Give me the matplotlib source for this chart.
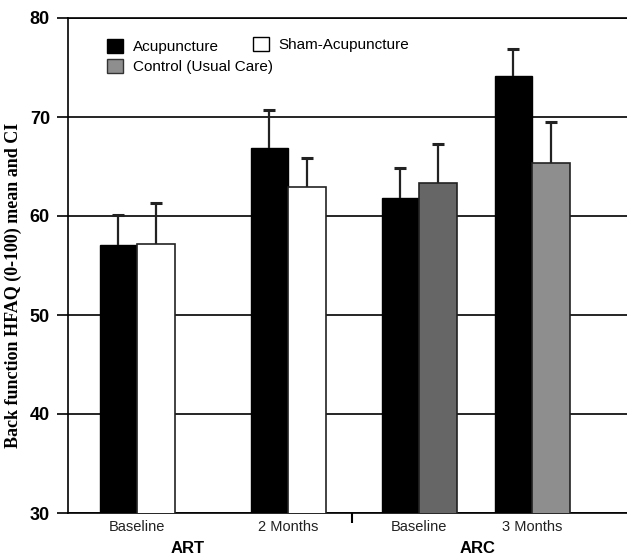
import matplotlib
matplotlib.use('Agg')
import matplotlib.pyplot as plt
from matplotlib.patches import Patch
import numpy as np

# Données (HFAQ, moyenne et borne sup. de l'IC)
periods = ['Baseline', '2 Months', 'Baseline', '3 Months']
studies = ['ART', 'ARC']
acu_mean = [57.1, 66.9, 61.8, 74.1]
acu_upper = [60.1, 70.7, 64.8, 76.9]
other_mean = [57.2, 62.9, 63.3, 65.4]
other_upper = [61.3, 65.9, 67.3, 69.5]
other_colors = ['white', 'white', '#666666', '#8e8e8e']
legend_labels = ['Acupuncture', 'Sham-Acupuncture', 'Control (Usual Care)']


def create_hfaq_plot():
    plt.rcParams['font.family'] = ['Liberation Sans', 'DejaVu Sans']

    fig = plt.figure(figsize=(6.27, 5.58), dpi=100)
    ax = fig.add_axes([68 / 627, 1 - 513 / 558, 1 - 68 / 627, 495 / 558])

    # positions des groupes (mise en page)
    centers = np.array([1.37, 2.88, 4.19, 5.32])
    width = 0.375

    ax.bar(centers - width / 2, acu_mean, width, bottom=0, color='black',
           edgecolor='black', linewidth=1, zorder=3)
    ax.bar(centers + width / 2, other_mean, width, color=other_colors,
           edgecolor='#222222', linewidth=1.2, zorder=3)

    # barres d'erreur (partie haute seulement)
    xs = np.concatenate([centers - width / 2, centers + width / 2])
    lo = np.concatenate([acu_mean, other_mean])
    hi = np.concatenate([acu_upper, other_upper])
    ax.vlines(xs, lo, hi, color='#222222', linewidth=1.6, zorder=4)
    ax.plot(xs, hi, ls='none', marker='_', ms=8, mew=2.2, color='#222222', zorder=4)

    ax.set_ylim(30, 80)
    ax.set_xlim(0.68, 6.27)
    ax.set_yticks([30, 40, 50, 60, 70, 80])
    ax.yaxis.grid(True, color='black', linewidth=1.2, zorder=1)
    ax.tick_params(axis='y', direction='out', length=8, width=1.2, pad=5,
                   labelsize=13)
    for lab in ax.get_yticklabels():
        lab.set_fontweight('bold')

    ax.set_xticks(centers)
    ax.set_xticklabels(periods, fontsize=10.5, color='#222222')
    ax.tick_params(axis='x', length=0, pad=5)
    ax.set_xticks([3.52], minor=True)
    ax.tick_params(axis='x', which='minor', length=7, width=1.5, direction='out')

    ax.spines['right'].set_visible(False)
    for s in ['left', 'bottom', 'top']:
        ax.spines[s].set_linewidth(1.2)

    trans = ax.get_xaxis_transform()
    ax.text(1.88, -0.072, studies[0], transform=trans, ha='center', va='center',
            fontsize=12, fontweight='bold')
    ax.text(4.78, -0.072, studies[1], transform=trans, ha='center', va='center',
            fontsize=12, fontweight='bold')

    ax.set_ylabel('Back function HFAQ (0-100) mean and CI',
                  family=['Liberation Serif', 'DejaVu Serif'],
                  fontsize=13, fontweight='bold')
    ax.yaxis.set_label_coords(-0.083, 0.46)

    # légende en deux morceaux comme sur l'original
    leg_kw = dict(loc='upper left', frameon=False, fontsize=11,
                  handlelength=1.05, handleheight=1.05, handletextpad=0.65,
                  labelspacing=0.3)
    h_acu = Patch(facecolor='black', edgecolor='black')
    h_ctrl = Patch(facecolor='#8e8e8e', edgecolor='#333333')
    h_sham = Patch(facecolor='white', edgecolor='black')
    leg1 = ax.legend([h_acu, h_ctrl], [legend_labels[0], legend_labels[2]],
                     bbox_to_anchor=(0.045, 0.985), **leg_kw)
    ax.add_artist(leg1)
    ax.legend([h_sham], [legend_labels[1]], bbox_to_anchor=(0.306, 0.99), **leg_kw)

    fig.savefig('out.png', dpi=100)


if __name__ == "__main__":
    create_hfaq_plot()
